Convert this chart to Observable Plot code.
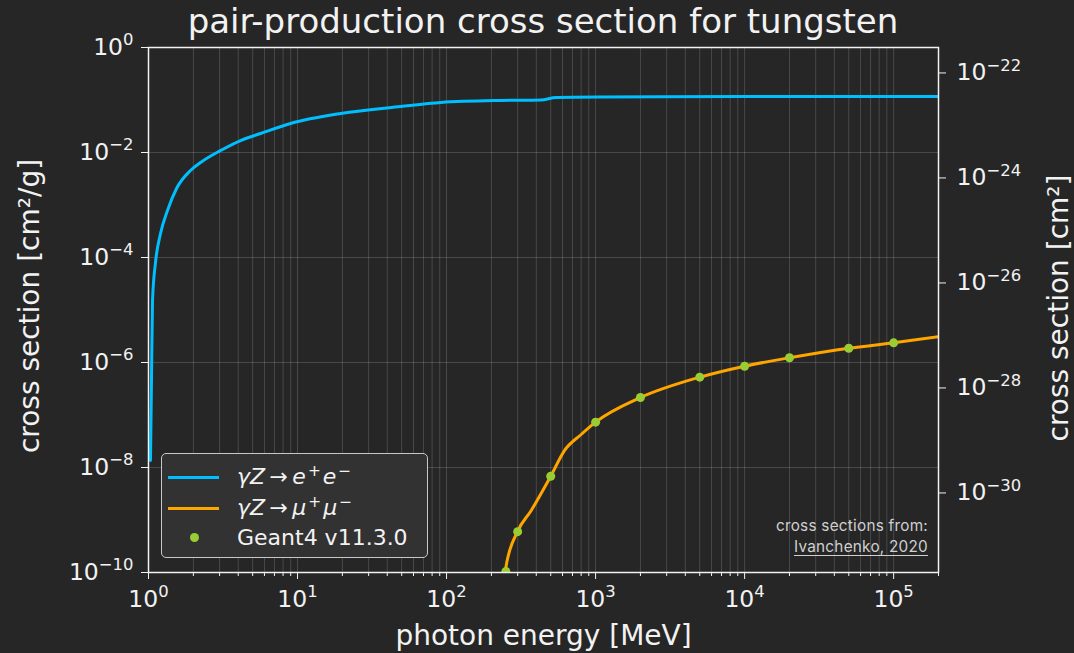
<!DOCTYPE html>
<html>
<head>
<meta charset="utf-8">
<script src="https://cdn.jsdelivr.net/npm/d3@7"></script>
<script src="https://cdn.jsdelivr.net/npm/@observablehq/plot@0.6"></script>
<style>
  html, body { margin:0; padding:0; background:#262626; }
  #wrap { position:relative; width:1074px; height:653px; background:#262626; overflow:hidden; font-family:"DejaVu Sans", sans-serif; color:#f2f2f2; }
  #title { position:absolute; left:0; width:1086px; top:4px; text-align:center; font-size:34px; line-height:1; white-space:nowrap; }
  #legend { position:absolute; left:161px; top:453px; width:265px; height:103px; background:#323232; border:1.5px solid #c8c8c8; border-radius:5px; box-sizing:content-box; }
  .row { position:absolute; left:0; height:28px; line-height:28px; font-size:22px; white-space:nowrap; }
  .sw { position:absolute; left:6px; width:51px; height:3px; }
  .dotsw { position:absolute; left:28px; width:9px; height:9px; border-radius:50%; }
  .lab { position:absolute; left:75px; top:0; }
  .lab sup { font-size:70%; vertical-align:0; position:relative; top:-0.55em; margin:0 2px; }
  #note { position:absolute; right:146px; top:515px; text-align:right; font-family:"Inter", sans-serif; font-size:15.3px; color:#d0d0d0; line-height:21px; letter-spacing:0.25px; }
  #note u { text-decoration:underline; text-underline-offset:3px; }
</style>
</head>
<body>
<div id="wrap">
  <div id="chart"></div>
  <div id="title">pair-production cross section for tungsten</div>
  <div id="legend">
    <div class="row" style="top:9px"><div class="sw" style="top:13px;background:#00bfff"></div><div class="lab"><i>γZ</i>&#8201;→&#8201;<i>e</i><sup>+</sup><i>e</i><sup>−</sup></div></div>
    <div class="row" style="top:40px"><div class="sw" style="top:13px;background:#ffa500"></div><div class="lab"><i>γZ</i>&#8201;→&#8201;<i>μ</i><sup>+</sup><i>μ</i><sup>−</sup></div></div>
    <div class="row" style="top:70px"><div class="dotsw" style="top:9px;background:#9acd32"></div><div class="lab">Geant4 v11.3.0</div></div>
  </div>
  <div id="note">cross sections from:<br><u>Ivanchenko, 2020</u></div>
</div>
<script>
// photon energy [MeV] and cross section [cm^2/g]
const eeEnergy = [1.031, 1.047, 1.064, 1.114, 1.204, 1.341, 1.542, 1.914, 2.236, 3.046, 4.148, 5.65, 8.98, 19.5, 49.3, 91.8, 232, 430, 544, 1087, 1e4, 2e5];
const eeSigma  = [1.36e-8, 4.5e-7, 1.52e-5, 8.0e-5, 2.86e-4, 7.85e-4, 2.06e-3, 4.54e-3, 6.45e-3, 1.09e-2, 1.69e-2, 2.3e-2, 3.57e-2, 5.53e-2, 7.52e-2, 8.96e-2, 9.8e-2, 0.1, 0.1116, 0.114, 0.1162, 0.1166];

const mmEnergy = [246, 250, 300, 369, 500, 618, 800, 1000, 2000, 5000, 1e4, 2e4, 5e4, 1e5, 2e5];
const mmSigma  = [5e-11, 1.25e-10, 6.1e-10, 1.5e-9, 6.8e-9, 2.1e-8, 4.25e-8, 7.3e-8, 2.15e-7, 5.25e-7, 8.5e-7, 1.23e-6, 1.87e-6, 2.37e-6, 3.1e-6];

const g4Energy = [250, 300, 500, 1000, 2000, 5000, 1e4, 2e4, 5e4, 1e5];
const g4Sigma  = [1.05e-10, 6.0e-10, 6.8e-9, 7.3e-8, 2.15e-7, 5.25e-7, 8.5e-7, 1.23e-6, 1.87e-6, 2.37e-6];

const xMajor = [1, 10, 100, 1e3, 1e4, 1e5];
const yMajor = [1, 1e-2, 1e-4, 1e-6, 1e-8, 1e-10];
const yRightMajor = [1e-22, 1e-24, 1e-26, 1e-28, 1e-30];
const xLabel = "photon energy [MeV]";
const yLabel = "cross section [cm²/g]";
const yRightLabel = "cross section [cm²]";

// cm^2/g -> cm^2 per atom (tungsten, A = 183.84 g/mol)
const perAtom = 183.84 / 6.02214076e23;

const xMinor = [];
for (const d of [1, 10, 100, 1e3, 1e4, 1e5]) for (let m = 2; m <= 9; m++) if (m * d <= 2e5) xMinor.push(m * d);

const ee = eeEnergy.map((E, i) => ({E, s: eeSigma[i]}));
const mm = mmEnergy.map((E, i) => ({E, s: mmSigma[i]}));
const g4 = g4Energy.map((E, i) => ({E, s: g4Sigma[i]}));

const expFmt = d => "10^" + Math.round(Math.log10(d));

const fg = "#f2f2f2";
const tickFont = 23.5;

const chart = Plot.plot({
  width: 1074, height: 653,
  marginLeft: 148, marginRight: 136, marginTop: 47, marginBottom: 81,
  style: {background: "#262626", color: fg, fontFamily: "DejaVu Sans, sans-serif", fontSize: tickFont + "px", overflow: "visible"},
  x: {type: "log", domain: [1, 2e5], label: null},
  y: {type: "log", domain: [1e-10, 1], label: null},
  marks: [
    Plot.ruleX([...xMajor, ...xMinor], {stroke: "#ffffff", strokeOpacity: 0.16, strokeWidth: 1}),
    Plot.ruleY(yMajor.slice(1, -1), {stroke: "#ffffff", strokeOpacity: 0.16, strokeWidth: 1}),
    Plot.line(ee, {x: "E", y: "s", stroke: "#00bfff", strokeWidth: 3, curve: "monotone-x", clip: true}),
    Plot.line(mm, {x: "E", y: "s", stroke: "#ffa500", strokeWidth: 3, curve: "monotone-x", clip: true}),
    Plot.dot(g4, {x: "E", y: "s", fill: "#9acd32", r: 4.5, clip: true}),
    Plot.frame({stroke: fg, strokeWidth: 1.5}),
    Plot.axisX(xMajor, {tickSize: 7, tickPadding: 11, tickFormat: expFmt, stroke: fg, label: null, fontSize: tickFont}),
    Plot.axisX(xMinor, {tickSize: 4, tickFormat: () => "", stroke: fg, label: null}),
    Plot.axisY(yMajor, {anchor: "left", tickSize: 7, tickPadding: 8, tickFormat: expFmt, stroke: fg, label: null, fontSize: tickFont}),
    Plot.axisY(yRightMajor.map(v => v / perAtom), {anchor: "right", tickSize: 7, tickPadding: 11, tickFormat: d => expFmt(d * perAtom), stroke: fg, label: null, fontSize: tickFont}),
    Plot.text([xLabel], {frameAnchor: "bottom", textAnchor: "middle", dy: 72, fontSize: 28, fill: fg}),
    Plot.text([yLabel], {frameAnchor: "left", textAnchor: "middle", rotate: -90, dx: -118, dy: -4, fontSize: 28, fill: fg}),
    Plot.text([yRightLabel], {frameAnchor: "right", textAnchor: "middle", rotate: -90, dx: 121, dy: -2, fontSize: 28, fill: fg})
  ]
});
document.getElementById("chart").appendChild(chart);

// render 10^n labels with a raised exponent
d3.select(chart).selectAll("text").each(function () {
  const t = this.textContent;
  const m = /^10\^(-?\d+)$/.exec(t);
  if (!m) return;
  const sel = d3.select(this);
  sel.text(null);
  sel.append("tspan").text("10");
  sel.append("tspan").attr("font-size", (tickFont * 0.7) + "px").attr("dy", -tickFont * 0.42 + "px").text(m[1].replace("-", "−"));
});
</script>
</body>
</html>
